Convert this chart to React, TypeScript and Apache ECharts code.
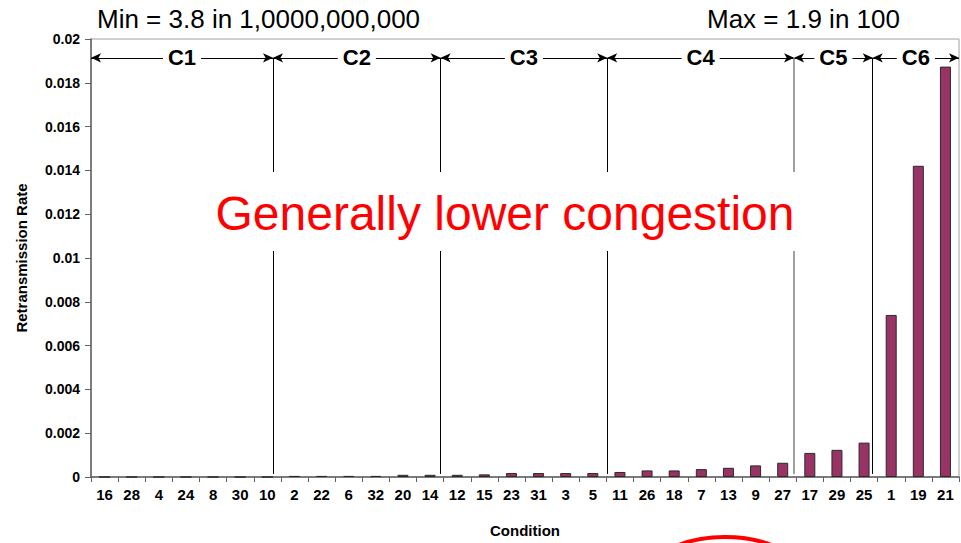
import React, { useEffect, useRef } from "react";
import * as echarts from "echarts";

const categories = ["16","28","4","24","8","30","10","2","22","6","32","20","14","12","15","23","31","3","5","11","26","18","7","13","9","27","17","29","25","1","19","21"];
const rates = [0,0,0,0,0,0,0,0.00005,0.00005,0.00005,0.00005,0.0001,0.0001,0.0001,0.00012,0.00018,0.00018,0.00018,0.00018,0.00023,0.0003,0.0003,0.00036,0.00042,0.00053,0.00065,0.0011,0.00124,0.00157,0.0074,0.01421,0.01874];
const groupNames = ["C1","C2","C3","C4","C5","C6"];
// group boundaries in category units (hand-drawn divider positions)
const groupBounds = [0, 6.71, 12.89, 19.03, 25.92, 28.82, 32];
const dividerColors = ["#000", "#000", "#000", "#808080", "#000"];
const yTicks = [0, 0.002, 0.004, 0.006, 0.008, 0.01, 0.012, 0.014, 0.016, 0.018, 0.02];
const minTitle = "Min = 3.8 in 1,0000,000,000";
const maxTitle = "Max = 1.9 in 100";
const noteText = "Generally lower congestion";

const FONT = "Arial, 'Liberation Sans', sans-serif";

export default function App() {
  const ref = useRef<HTMLDivElement>(null);
  useEffect(() => {
    if (!ref.current) return;
    const chart = echarts.init(ref.current, null, { renderer: "svg" });
    const arrowY = 0.01914;
    const lineBottom = 0.00014;
    const arrowData: any[] = groupNames.map((n, i) => [
      { coord: [groupBounds[i], arrowY] },
      { coord: [groupBounds[i + 1], arrowY] },
    ]);
    const labelData: any[] = groupNames.map((n, i) => ({
      value: [(groupBounds[i] + groupBounds[i + 1]) / 2, arrowY],
      name: n,
    }));
    const dividerData: any[] = groupBounds.slice(1, -1).map((b, i) => [
      { coord: [b, lineBottom], lineStyle: { color: dividerColors[i], width: dividerColors[i] === "#000" ? 1 : 1.5 } },
      { coord: [b, arrowY] },
    ]);
    chart.setOption({
      animation: false,
      textStyle: { fontFamily: FONT },
      title: [
        { text: minTitle, left: 97, top: 6, padding: 0, textStyle: { fontFamily: FONT, fontSize: 26, fontWeight: "normal", color: "#000" } },
        { text: maxTitle, left: 707, top: 6, padding: 0, textStyle: { fontFamily: FONT, fontSize: 26, fontWeight: "normal", color: "#000" } },
      ],
      grid: { left: 91, right: 2, top: 39, bottom: 63, show: true, borderColor: "#a0a0a0", borderWidth: 1, backgroundColor: "#fff" },
      xAxis: [
        {
          type: "category",
          data: categories,
          name: "Condition",
          nameLocation: "middle",
          nameGap: 46,
          nameTextStyle: { fontFamily: FONT, fontSize: 15, fontWeight: "bold", color: "#000" },
          axisLine: { lineStyle: { color: "#606060", width: 1.5 } },
          axisTick: { show: true, alignWithLabel: false, length: 5, lineStyle: { color: "#606060" } },
          axisLabel: { interval: 0, margin: 10, fontFamily: FONT, fontSize: 15, fontWeight: "bold", color: "#000" },
        },
        { type: "value", min: 0, max: 32, show: false },
      ],
      yAxis: {
        type: "value",
        min: 0,
        max: 0.02,
        interval: 0.002,
        name: "Retransmission Rate",
        nameLocation: "middle",
        nameGap: 62,
        nameRotate: 90,
        nameTextStyle: { fontFamily: FONT, fontSize: 15, fontWeight: "bold", color: "#000" },
        axisLine: { show: true, lineStyle: { color: "#606060", width: 1.5 } },
        axisTick: { show: true, length: 6, lineStyle: { color: "#606060" } },
        splitLine: { show: false },
        axisLabel: {
          margin: 11,
          fontFamily: FONT,
          fontSize: 14,
          fontWeight: "bold",
          color: "#000",
          formatter: (v: number) => {
            const idx = yTicks.findIndex((t) => Math.abs(t - v) < 1e-9);
            return idx >= 0 ? String(Number(yTicks[idx].toFixed(3))) : "";
          },
        },
      },
      series: [
        {
          type: "bar",
          data: rates,
          barWidth: 11,
          itemStyle: { color: "#993366", borderColor: "#2a2a2a", borderWidth: 1 },
          z: 3,
        },
        {
          type: "line",
          xAxisIndex: 1,
          data: [[0, 0]],
          symbolSize: 0,
          showSymbol: false,
          lineStyle: { width: 0 },
          silent: true,
          z: 4,
          markLine: {
            silent: true,
            symbol: ["arrow", "arrow"],
            symbolSize: [7, 10],
            lineStyle: { color: "#000", width: 1, type: "solid" },
            label: { show: false },
            data: arrowData,
          },
        },
        {
          type: "line",
          xAxisIndex: 1,
          data: [[0, 0]],
          symbolSize: 0,
          showSymbol: false,
          lineStyle: { width: 0 },
          silent: true,
          z: 4,
          markLine: {
            silent: true,
            symbol: ["none", "none"],
            lineStyle: { color: "#000", width: 1, type: "solid" },
            label: { show: false },
            data: dividerData,
          },
        },
        {
          type: "scatter",
          xAxisIndex: 1,
          data: labelData,
          symbolSize: 1,
          itemStyle: { color: "#fff", opacity: 1 },
          silent: true,
          z: 6,
          label: {
            show: true,
            position: "inside",
            formatter: "{b}",
            fontFamily: FONT,
            fontSize: 22,
            fontWeight: "bold",
            color: "#000",
            opacity: 1,
            textBorderWidth: 0,
            textBorderColor: "transparent",
            backgroundColor: "#fff",
            padding: [0, 5],
          },
        },
      ],
      graphic: [
        { type: "rect", z: 100, shape: { x: 206, y: 172, width: 598, height: 79 }, style: { fill: "#fff" } },
        {
          type: "text",
          z: 101,
          x: 505,
          y: 213,
          style: { text: noteText, fill: "#ff0000", font: `48px ${FONT}`, align: "center", verticalAlign: "middle" },
        },
        { type: "ellipse", z: 101, shape: { cx: 725, cy: 597, rx: 92, ry: 60 }, style: { fill: "none", stroke: "#ff0000", lineWidth: 4 } },
      ],
    });
    return () => chart.dispose();
  }, []);
  return <div ref={ref} style={{ width: 961, height: 543, position: "absolute", left: 0, top: 0 }} />;
}
